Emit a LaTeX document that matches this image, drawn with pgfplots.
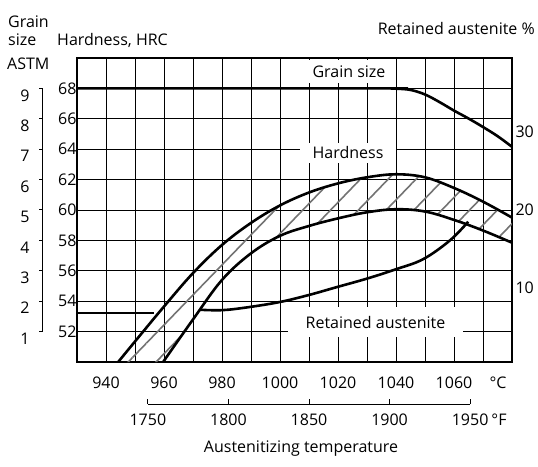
\documentclass[border=0pt]{standalone}
\usepackage{fontspec}
\setmainfont{Open Sans}
\usepackage{pgfplots}
\usepackage{pgfplotstable}
\pgfplotsset{compat=1.18}
\usepgfplotslibrary{fillbetween}
\usetikzlibrary{patterns.meta}

\pgfplotstableread{
T HRC
944.2 50.0
950 51.35
960 53.65
970 55.85
980 57.7
990 59.15
1000 60.3
1010 61.15
1020 61.75
1030 62.15
1040 62.35
1050 62.15
1060 61.45
1070 60.55
1080 59.5
}\tabHup

\pgfplotstableread{
T HRC
959.7 50
970 52.8
980 55.4
990 57.15
1000 58.3
1010 58.95
1020 59.45
1030 59.85
1040 60.05
1050 59.9
1060 59.35
1070 58.65
1080 57.85
}\tabHlo

\pgfplotstableread{
T g
930 9
1035 9
1040 8.99
1045 8.95
1050 8.8
1055 8.55
1060 8.27
1065 8.01
1070 7.73
1075 7.43
1080 7.08
}\tabGrain

\pgfplotstableread{
T RA
930 6.8
956.5 6.8
}\tabRAleft

\pgfplotstableread{
T RA
972.5 7.2
980 7.15
988.5 7.5
1000 8.2
1010 9.1
1019.5 10.1
1030 11.2
1040 12.4
1049.4 13.7
1058.6 16.1
1064.9 18.5
}\tabRAright

\begin{document}
\begin{tikzpicture}[font=\fontsize{16}{19}\selectfont]

% main axis: hardness
\begin{axis}[
  at={(0pt,0pt)}, anchor=south west,
  scale only axis, width=435pt, height=304pt,
  xmin=930, xmax=1080, ymin=50, ymax=70,
  xtick={940,960,...,1060},
  minor xtick={950,970,...,1070},
  ytick={52,54,...,68},
  grid=both,
  major grid style={black, line width=0.9pt},
  minor grid style={black, line width=0.9pt},
  axis line style={black, line width=1.3pt},
  major tick length=0pt, minor tick length=0pt,
  tick label style={font=\fontsize{16}{19}\selectfont},
  /pgf/number format/assume math mode=true,
  /pgf/number format/1000 sep={},
  xticklabel style={anchor=base, yshift=-26pt},
  yticklabel style={anchor=east, xshift=3pt},
]
\addplot[name path=up, black, line width=2.6pt, smooth, tension=0.6] table[x=T, y=HRC] {\tabHup};
\addplot[name path=lo, black, line width=2.6pt, smooth, tension=0.6] table[x=T, y=HRC] {\tabHlo};
\addplot[draw=none, pattern={Lines[angle=46, distance=20pt, line width=1.6pt]}, pattern color=black!55] fill between[of=up and lo];
\addplot[black, line width=2.6pt, smooth, tension=0.6] table[x=T, y expr=50+2*\thisrow{g}] {\tabGrain};
\end{axis}

% retained austenite axis
\begin{axis}[
  at={(0pt,0pt)}, anchor=south west,
  scale only axis, width=435pt, height=304pt,
  xmin=930, xmax=1080, ymin=0.5, ymax=39.5,
  hide x axis, axis y line*=right, y axis line style={draw=none},
  ytick={10,20,30}, major tick length=0pt,
  tick label style={font=\fontsize{16}{19}\selectfont},
  /pgf/number format/assume math mode=true,
]
\addplot[black, line width=2.6pt] table[x=T, y=RA] {\tabRAleft};
\addplot[black, line width=2.6pt, smooth, tension=0.6] table[x=T, y=RA] {\tabRAright};
\end{axis}

% grain size ASTM axis
\begin{axis}[
  at={(-34pt,0pt)}, anchor=south west,
  scale only axis, width=1pt, height=304pt,
  xmin=0, xmax=1, ymin=0, ymax=10,
  hide x axis, axis y line*=left, y axis line style={draw=none},
  ytick={1,...,9}, tick align=outside, major tick length=4pt,
  tick style={black, line width=1pt},
  tick label style={font=\fontsize{16}{19}\selectfont},
  /pgf/number format/assume math mode=true,
  yticklabel style={anchor=east, xshift=-6pt, yshift=-7pt},
  clip=false,
]
\addplot[black, line width=1pt] coordinates {(0,1) (0,9)};
\end{axis}

% Fahrenheit axis
\begin{axis}[
  at={(0pt,-42pt)}, anchor=south west,
  scale only axis, width=435pt, height=1pt,
  xmin=1706, xmax=1976, ymin=0, ymax=1,
  hide y axis, axis x line*=bottom, x axis line style={draw=none},
  xtick={1750,1800,...,1950}, tick align=inside, major tick length=5pt,
  tick style={black, line width=1pt},
  tick label style={font=\fontsize{16}{19}\selectfont},
  /pgf/number format/assume math mode=true,
  /pgf/number format/1000 sep={},
  xticklabel style={anchor=base, yshift=-21pt},
  clip=false,
]
\addplot[black, line width=1pt] coordinates {(1750,0) (1950,0)};
\end{axis}

% labels
\node[fill=white, minimum width=88pt, minimum height=23pt, inner sep=0pt] at (272pt,290.5pt) {Grain size};
\node[fill=white, minimum width=96pt, minimum height=20pt, inner sep=0pt] at (271pt,209pt) {Hardness};
\node[fill=white, minimum width=175pt, minimum height=30pt, inner sep=0pt] at (298.5pt,40pt) {Retained austenite};

\node[anchor=base west, inner sep=0pt] at (-69pt,334pt) {Grain};
\node[anchor=base west, inner sep=0pt] at (-69pt,316pt) {size};
\node[anchor=base west, inner sep=0pt] at (-70pt,292.7pt) {ASTM};
\node[anchor=base west, inner sep=0pt] at (-20pt,316pt) {Hardness, HRC};
\node[anchor=base east, inner sep=0pt] at (458pt,327.7pt) {Retained austenite \%};

\node[anchor=base, inner sep=0pt] at (421pt,-26pt) {°C};
\node[anchor=base, inner sep=0pt] at (422pt,-63pt) {°F};
\node[anchor=base, inner sep=0pt] at (224pt,-90pt) {Austenitizing temperature};

\pgfresetboundingbox
\path[use as bounding box] (-77pt,-104pt) rectangle (461pt,362pt);
\end{tikzpicture}
\end{document}
